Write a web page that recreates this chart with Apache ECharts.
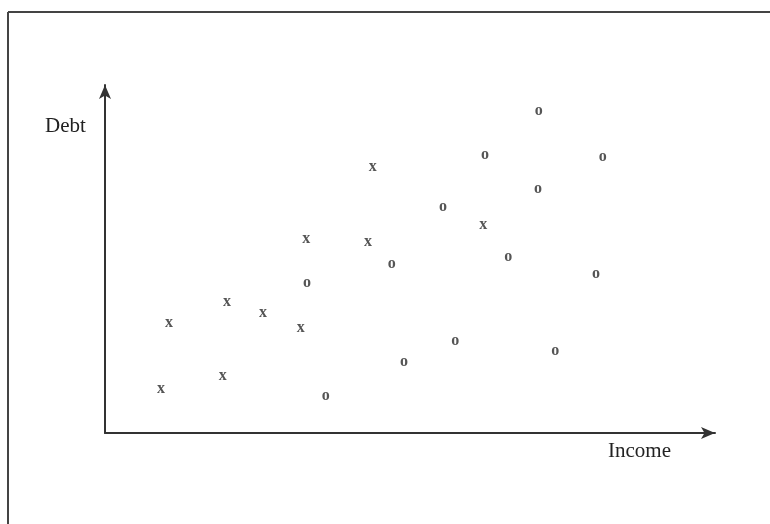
<!DOCTYPE html>
<html>
<head>
<meta charset="utf-8">
<script src="https://cdn.jsdelivr.net/npm/echarts@6/dist/echarts.min.js"></script>
<style>html,body{margin:0;padding:0;background:#fff}#c{width:770px;height:524px}</style>
</head>
<body>
<div id="c"></div>
<script>
// Data (income, debt) on a 0-100 scale
var xPoints = [
  [10.5, 31.6], [20.0, 37.6], [25.9, 34.5], [32.1, 30.2], [33.0, 55.7],
  [43.1, 54.9], [43.9, 76.4], [9.2, 12.6], [19.3, 16.4], [62.0, 59.8]
];
var oPoints = [
  [71.1, 92.5], [62.3, 79.9], [81.6, 79.3], [71.0, 70.1], [55.4, 64.9],
  [47.0, 48.6], [66.1, 50.6], [80.5, 45.7], [33.1, 43.1], [49.0, 20.4],
  [57.4, 26.4], [73.8, 23.6], [36.2, 10.6]
];
var xAxisName = 'Income';
var yAxisName = 'Debt';

var serif = '"Liberation Serif", "DejaVu Serif", serif';
var chart = echarts.init(document.getElementById('c'));

function markSeries(data, ch) {
  return {
    type: 'scatter',
    data: data,
    symbol: 'circle',
    symbolSize: 2,
    itemStyle: { color: 'rgba(0,0,0,0)' },
    label: {
      show: true,
      position: 'inside',
      formatter: ch,
      fontFamily: serif,
      fontWeight: 'bold',
      fontSize: 16,
      color: '#2a2a2a'
    },
    silent: true
  };
}

chart.setOption({
  animation: false,
  backgroundColor: '#fff',
  grid: { left: 105, right: 55, top: 85, bottom: 91 },
  xAxis: {
    type: 'value', min: 0, max: 100,
    axisLine: { show: true, symbol: ['none', 'arrow'], symbolSize: [9, 14], lineStyle: { color: '#333', width: 2 } },
    axisTick: { show: false }, axisLabel: { show: false }, splitLine: { show: false }
  },
  yAxis: {
    type: 'value', min: 0, max: 100,
    axisLine: { show: true, symbol: ['none', 'arrow'], symbolSize: [9, 14], lineStyle: { color: '#333', width: 2 } },
    axisTick: { show: false }, axisLabel: { show: false }, splitLine: { show: false }
  },
  graphic: [
    { type: 'line', shape: { x1: 8, y1: 12, x2: 770, y2: 12 }, style: { stroke: '#444', lineWidth: 2 } },
    { type: 'line', shape: { x1: 8, y1: 12, x2: 8, y2: 524 }, style: { stroke: '#444', lineWidth: 2 } },
    { type: 'text', left: 45, top: 116, style: { text: yAxisName, font: '21px ' + serif, fill: '#222' } },
    { type: 'text', left: 608, top: 441, style: { text: xAxisName, font: '21px ' + serif, fill: '#222' } }
  ],
  series: [markSeries(xPoints, 'x'), markSeries(oPoints, 'o')]
});
</script>
</body>
</html>
